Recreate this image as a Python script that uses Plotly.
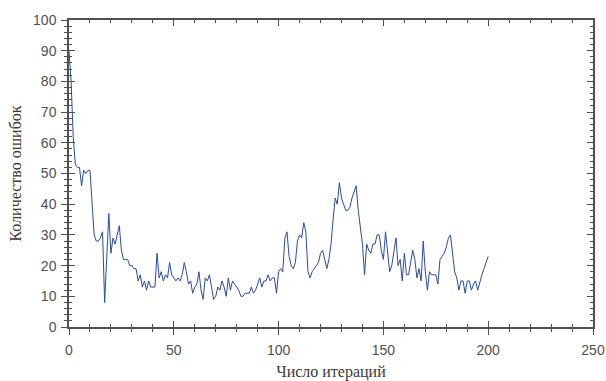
import plotly.graph_objects as go

iterations = list(range(0, 201))
errors = [
    90, 80, 62, 53, 52, 52, 46, 51, 50, 51,
    51, 40, 30, 28, 28, 29, 31, 8, 21, 37,
    24, 29, 27, 30, 33, 25, 22, 22, 22, 20,
    20, 19, 19, 15, 17, 13, 15, 12, 15, 13,
    13, 13, 24, 16, 18, 15, 17, 16, 21, 17,
    16, 15, 16, 15, 17, 21, 18, 14, 15, 11,
    13, 14, 18, 12, 9, 16, 15, 17, 13, 9,
    10, 13, 12, 15, 13, 10, 16, 12, 15, 14,
    13, 12, 10, 10, 11, 11, 11, 13, 11, 12,
    14, 16, 13, 15, 15, 17, 15, 16, 16, 11,
    18, 19, 18, 29, 31, 23, 20, 19, 21, 28,
    30, 29, 34, 31, 18, 16, 18, 19, 20, 21,
    24, 25, 22, 19, 22, 27, 35, 42, 40, 47,
    42, 40, 38, 38, 39, 42, 44, 46, 38, 33,
    27, 17, 27, 25, 24, 27, 27, 30, 30, 25,
    22, 31, 24, 18, 20, 25, 29, 20, 22, 15,
    24, 17, 17, 21, 25, 22, 16, 19, 15, 28,
    18, 12, 18, 17, 17, 17, 14, 22, 23, 24,
    26, 29, 30, 23, 18, 16, 12, 15, 15, 11,
    15, 15, 12, 14, 15, 12, 15, 17, 19, 21,
    23,
]

x_title = "Число итераций"
y_title = "Количество ошибок"

axis_color = "#505050"
tick_font = dict(family="Liberation Sans, Arial", size=14, color="#505050")
title_font = dict(family="Liberation Serif, Times New Roman", size=16, color="#3a3a3a")

fig = go.Figure()
fig.add_trace(go.Scatter(
    x=iterations, y=errors, mode="lines",
    line=dict(color="#2b4ba0", width=1),
    showlegend=False, hoverinfo="x+y",
))
# invisible companion trace so the inward-tick axes get drawn
fig.add_trace(go.Scatter(
    x=iterations, y=errors, mode="lines", xaxis="x2", yaxis="y2",
    opacity=0, showlegend=False, hoverinfo="skip",
))

common_x = dict(range=[0, 250], dtick=50, tick0=0, showgrid=False, zeroline=False,
                showline=True, linecolor=axis_color, linewidth=1.5, automargin=False,
                tickcolor=axis_color, tickwidth=1.2, ticklen=6)
common_y = dict(range=[0, 100], dtick=10, tick0=0, showgrid=False, zeroline=False,
                showline=True, linecolor=axis_color, linewidth=1.5, automargin=False,
                tickcolor=axis_color, tickwidth=1.2, ticklen=6)

fig.update_layout(
    width=606, height=381,
    margin=dict(l=69, r=13, t=20, b=54),
    paper_bgcolor="white", plot_bgcolor="white",
    xaxis=dict(**common_x, ticks="outside", mirror=True, tickfont=tick_font, ticklabelstandoff=3,
               minor=dict(dtick=10, ticks="outside", ticklen=3, tickcolor=axis_color, tickwidth=1),
               title=dict(text=x_title, font=title_font, standoff=9)),
    yaxis=dict(**common_y, ticks="outside", mirror=True, tickfont=tick_font, ticklabelstandoff=2,
               minor=dict(dtick=2, ticks="outside", ticklen=3, tickcolor=axis_color, tickwidth=1),
               title=dict(text=y_title, font=title_font, standoff=7)),
    xaxis2=dict(**common_x, ticks="inside", mirror="allticks", showticklabels=False,
                overlaying="x", anchor="y2",
                minor=dict(dtick=10, ticks="inside", ticklen=3, tickcolor=axis_color, tickwidth=1)),
    yaxis2=dict(**common_y, ticks="inside", mirror="allticks", showticklabels=False,
                overlaying="y", anchor="x2",
                minor=dict(dtick=2, ticks="inside", ticklen=3, tickcolor=axis_color, tickwidth=1)),
)

fig.write_html("out.html")
